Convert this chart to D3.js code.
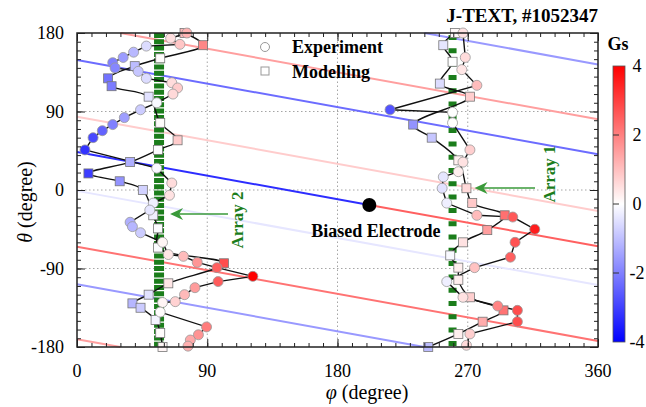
<!DOCTYPE html>
<html>
<head>
<meta charset="utf-8">
<script src="https://cdn.jsdelivr.net/npm/d3@7"></script>
<style>
  body { margin: 0; background: #fff; }
  text { font-family: "Liberation Serif", "Times New Roman", serif; }
</style>
</head>
<body>
<div id="chart"></div>
<script>
// ---- data ----
var phiTicks = [0, 90, 180, 270, 360];
var thetaTicks = [-180, -90, 0, 90, 180];
var gsTicks = [-4, -2, 0, 2, 4];

// helical field lines: theta at phi = 0, phi range, field value (Gs)
var lineTheta0 = [189, 149, 84, 43.5, 43.5, -1, -65, -108];
var lineFrom   = [0, 0, 0, 0, 202, 0, 0, 0];
var lineTo     = [360, 360, 360, 202, 360, 360, 360, 360];
var lineGs     = [1.5, -2.3, 0.8, -3.3, 2.5, -0.4, 2.2, -1.6];
var pitch = 0.3;   // d(theta)/d(phi)

var electrodePhi = 202, electrodeTheta = -17.2;

var array1Phi = 259.5, array2Phi = 56.7;
var phiPerGs = 16;

// Array 2 (phi ~ 57)
var thetaExp2 = [180, 174, 167, 165, 158, 152, 146, 140, 136, 128, 123, 117, 110, 100, 92, 83, 75, 68, 60, 46,
                 25, 8, -6, -15, -23, -37, -42, -49, -60, -74, -76, -83, -89, -99, -105, -112, -120, -128, -129, -140,
                 -157, -166, -172, -179];
var bExp2 = [1.2, 0.5, 0.9, -0.55, -1.1, -1.55, -2.0, -1.9, -0.9, -0.55, 0.55, 0.8, 0.6, -0.1, -0.8, -1.5, -2.0, -2.45, -2.85, -3.2,
             -0.1, 0.55, 0.45, -0.25, -0.4, -1.25, -1.15, -0.8, 0.15, 0.4, 1.05, 1.65, 2.5, 4.05, 2.55, 1.55, 1.1, 0.7, 0.15, 0.05,
             2.05, 1.7, 1.35, 1.25];
var thetaMod2 = [180, 166, 151, 142, 128, 119, 107, 77, 57, 46, 32, 19, 10, 0, -29, -44, -66, -84, -107, -120, -130, -135, -149, -164, -180];
var bMod2 = [1.1, 1.9, 0.05, -1.05, -2.2, -2.05, -0.45, 0.05, 0.8, -0.05, -1.25, -3.05, -1.7, -0.7, -0.25, -0.05, -0.05, 2.8, 0.4, -0.45, -1.15, -0.8, -0.15, 0.05, 0.15];

// Array 1 (phi ~ 260)
var thetaExp1 = [180, 152, 138, 120, 92, 89, 77, 46, 32, 21, 15, 2, -15, -29, -31, -45, -60, -77, -89, -105,
                 -123, -133, -138, -151, -165, -178];
var bExp1 = [0.45, 0.55, 0.4, 1.05, -2.7, 0, 0, 0.75, 0.45, 0.25, -0.4, -0.45, -0.25, 1.05, 2.6, 3.55, 2.7, 2.5, 0.95, -0.25,
             0.45, 1.95, 2.8, 2.8, 0.75, 0.6];
var thetaMod1 = [180, 166, 147, 122, 107, 75, 60, 34, 2, -15, -29, -46, -60, -75, -89, -103, -123, -138, -151, -165, -180];
var bMod1 = [0.1, -0.4, 0, -0.55, 0.75, -1.7, -0.9, 0.25, 0.6, 0.85, 2.25, 1.5, 0.45, -0.1, 0.25, 0.25, 0.75, 2.2, 1.3, 0.25, -1.05];

// ---- chart ----
var w = 646, h = 407;
var x = d3.scaleLinear().domain([0, 360]).range([77, 598]);
var y = d3.scaleLinear().domain([-180, 180]).range([347, 33]);
var color = d3.scaleLinear().domain([-4, 0, 4]).range(["#0000ff", "#ffffff", "#ff0000"]).clamp(true);
var green = "#1b7d1b";

var svg = d3.select("#chart").append("svg")
    .attr("width", w)
    .attr("height", h);

// dotted grid
svg.selectAll("line.gx").data([90, 180, 270]).enter().append("line")
    .attr("x1", d => x(d)).attr("x2", d => x(d))
    .attr("y1", y(-180)).attr("y2", y(180))
    .attr("stroke", "#a5a5a5").attr("stroke-dasharray", "1.5,2.5");
svg.selectAll("line.gy").data([-90, 0, 90]).enter().append("line")
    .attr("y1", d => y(d)).attr("y2", d => y(d))
    .attr("x1", x(0)).attr("x2", x(360))
    .attr("stroke", "#a5a5a5").attr("stroke-dasharray", "1.5,2.5");

// field lines, wrapped in theta
function wrap(t) { while (t >= 180) t -= 360; while (t < -180) t += 360; return t; }
function segments(t0, p0, p1) {
    var segs = [], p = p0, t = wrap(t0 - pitch * p0);
    while (p < p1 - 1e-9) {
        var pHit = p + (t + 180) / pitch;
        if (pHit >= p1) { segs.push([[p, t], [p1, t - pitch * (p1 - p)]]); break; }
        segs.push([[p, t], [pHit, -180]]);
        p = pHit; t = 180;
    }
    return segs;
}
var fieldSegs = [];
lineTheta0.forEach(function(t0, i) {
    segments(t0, lineFrom[i], lineTo[i]).forEach(function(s) {
        fieldSegs.push({ pts: s, gs: lineGs[i] });
    });
});
svg.selectAll("line.field").data(fieldSegs).enter().append("line")
    .attr("x1", d => x(d.pts[0][0])).attr("y1", d => y(d.pts[0][1]))
    .attr("x2", d => x(d.pts[1][0])).attr("y2", d => y(d.pts[1][1]))
    .attr("stroke", d => color(d.gs))
    .attr("stroke-width", 2);

// probe arrays
svg.append("line")
    .attr("x1", x(array2Phi)).attr("x2", x(array2Phi))
    .attr("y1", y(180)).attr("y2", y(-180))
    .attr("stroke", green).attr("stroke-width", 10)
    .attr("stroke-dasharray", "5,1.3");
svg.append("line")
    .attr("x1", x(array1Phi)).attr("x2", x(array1Phi))
    .attr("y1", y(180) + 2).attr("y2", y(-180))
    .attr("stroke", green).attr("stroke-width", 8)
    .attr("stroke-dasharray", "5,8.3");

// profiles
function profile(phi0, thetas, bs, kind) {
    var pts = thetas.map((t, i) => ({ t: t, b: bs[i] }));
    var line = d3.line()
        .x(d => x(phi0 + d.b * phiPerGs))
        .y(d => y(d.t))
        .curve(kind == "mod" ? d3.curveCatmullRom.alpha(0.5) : d3.curveLinear);
    svg.append("path").datum(pts)
        .attr("d", line)
        .attr("fill", "none").attr("stroke", "#111").attr("stroke-width", 1.4);
    return pts;
}
var e2 = profile(array2Phi, thetaExp2, bExp2, "exp");
var m2 = profile(array2Phi, thetaMod2, bMod2, "mod");
var e1 = profile(array1Phi, thetaExp1, bExp1, "exp");
var m1 = profile(array1Phi, thetaMod1, bMod1, "mod");

function squares(phi0, pts) {
    svg.append("g").selectAll("rect").data(pts).enter().append("rect")
        .attr("x", d => x(phi0 + d.b * phiPerGs) - 4.5)
        .attr("y", d => y(d.t) - 4.5)
        .attr("width", 9).attr("height", 9)
        .attr("fill", d => color(d.b))
        .attr("stroke", "#777").attr("stroke-width", 0.8);
}
function circles(phi0, pts) {
    svg.append("g").selectAll("circle").data(pts).enter().append("circle")
        .attr("cx", d => x(phi0 + d.b * phiPerGs))
        .attr("cy", d => y(d.t))
        .attr("r", 5)
        .attr("fill", d => color(d.b))
        .attr("stroke", "#999").attr("stroke-width", 0.8);
}
squares(array2Phi, m2);
squares(array1Phi, m1);
circles(array2Phi, e2);
circles(array1Phi, e1);

// biased electrode
svg.append("circle")
    .attr("cx", x(electrodePhi)).attr("cy", y(electrodeTheta))
    .attr("r", 7).attr("fill", "#000");
svg.append("text")
    .attr("x", x(electrodePhi) - 58).attr("y", y(electrodeTheta) + 32)
    .attr("font-size", 18).attr("font-weight", "bold")
    .text("Biased Electrode");

// array labels and arrows
function arrow(x1, x2, yy) {
    svg.append("line").attr("x1", x1).attr("x2", x2 + 6).attr("y1", yy).attr("y2", yy)
        .attr("stroke", "#3a9a3a").attr("stroke-width", 1.6);
    svg.append("path")
        .attr("d", "M" + x2 + "," + yy + " l13,-6 l-4,6 l4,6 z")
        .attr("fill", "#3a9a3a");
}
arrow(228, x(array2Phi) + 11, 214);
arrow(535, x(array1Phi) + 22, 188);
svg.append("text")
    .attr("transform", "translate(243,220) rotate(-90)")
    .attr("text-anchor", "middle")
    .attr("font-size", 17).attr("font-weight", "bold").attr("fill", green)
    .text("Array 2");
svg.append("text")
    .attr("transform", "translate(555,174) rotate(-90)")
    .attr("text-anchor", "middle")
    .attr("font-size", 17).attr("font-weight", "bold").attr("fill", green)
    .text("Array 1");

// legend
svg.append("circle").attr("cx", 265).attr("cy", 47).attr("r", 4.5)
    .attr("fill", "#fff").attr("stroke", "#999");
svg.append("rect").attr("x", 261).attr("y", 67).attr("width", 8).attr("height", 8)
    .attr("fill", "#fff").attr("stroke", "#999");
svg.append("text").attr("x", 292).attr("y", 53)
    .attr("font-size", 18).attr("font-weight", "bold").text("Experiment");
svg.append("text").attr("x", 292).attr("y", 78)
    .attr("font-size", 18).attr("font-weight", "bold").text("Modelling");

// frame and ticks
function inward(g) { g.select(".domain").remove(); g.selectAll("line").attr("stroke", "#222"); }
var minorPhi = d3.range(0, 361, 10), minorTheta = d3.range(-180, 181, 10);
svg.append("g").attr("transform", "translate(0," + y(-180) + ")")
    .call(d3.axisBottom(x).tickValues(minorPhi).tickSize(-4).tickFormat("")).call(inward);
svg.append("g").attr("transform", "translate(0," + y(180) + ")")
    .call(d3.axisTop(x).tickValues(minorPhi).tickSize(-4).tickFormat("")).call(inward);
svg.append("g").attr("transform", "translate(" + x(0) + ",0)")
    .call(d3.axisLeft(y).tickValues(minorTheta).tickSize(-4).tickFormat("")).call(inward);
svg.append("g").attr("transform", "translate(" + x(360) + ",0)")
    .call(d3.axisRight(y).tickValues(minorTheta).tickSize(-4).tickFormat("")).call(inward);
svg.append("g").attr("transform", "translate(0," + y(-180) + ")")
    .call(d3.axisBottom(x).tickValues(phiTicks).tickSize(-8).tickFormat("")).call(inward);
svg.append("g").attr("transform", "translate(0," + y(180) + ")")
    .call(d3.axisTop(x).tickValues(phiTicks).tickSize(-8).tickFormat("")).call(inward);
svg.append("g").attr("transform", "translate(" + x(0) + ",0)")
    .call(d3.axisLeft(y).tickValues(thetaTicks).tickSize(-8).tickFormat("")).call(inward);
svg.append("g").attr("transform", "translate(" + x(360) + ",0)")
    .call(d3.axisRight(y).tickValues(thetaTicks).tickSize(-8).tickFormat("")).call(inward);

svg.append("rect")
    .attr("x", x(0)).attr("y", y(180))
    .attr("width", x(360) - x(0)).attr("height", y(-180) - y(180))
    .attr("fill", "none").attr("stroke", "#222").attr("stroke-width", 1.5);

// tick labels
svg.selectAll("text.xt").data(phiTicks).enter().append("text")
    .attr("x", d => x(d)).attr("y", 377)
    .attr("text-anchor", "middle").attr("font-size", 18)
    .text(d => d);
svg.selectAll("text.yt").data(thetaTicks).enter().append("text")
    .attr("x", 64).attr("y", d => y(d) + 6)
    .attr("text-anchor", "end").attr("font-size", 18)
    .text(d => d);

// axis titles
var xt = svg.append("text").attr("x", 367).attr("y", 399)
    .attr("text-anchor", "middle").attr("font-size", 20);
xt.append("tspan").attr("font-style", "italic").text("φ");
xt.append("tspan").text(" (degree)");
var yt = svg.append("text").attr("transform", "translate(32,202) rotate(-90)")
    .attr("text-anchor", "middle").attr("font-size", 20);
yt.append("tspan").attr("font-style", "italic").text("θ");
yt.append("tspan").text(" (degree)");

// title
svg.append("text").attr("x", 598).attr("y", 22)
    .attr("text-anchor", "end").attr("font-size", 19).attr("font-weight", "bold")
    .text("J-TEXT, #1052347");

// colour bar
var cy = d3.scaleLinear().domain([-4, 4]).range([342, 66]);
var defs = svg.append("defs");
var grad = defs.append("linearGradient").attr("id", "cb")
    .attr("x1", 0).attr("x2", 0).attr("y1", 1).attr("y2", 0);
[-4, -2, 0, 2, 4].forEach(function(v) {
    grad.append("stop").attr("offset", (v + 4) / 8).attr("stop-color", color(v));
});
svg.append("rect").attr("x", 613).attr("y", cy(4))
    .attr("width", 12).attr("height", cy(-4) - cy(4))
    .attr("fill", "url(#cb)").attr("stroke", "#555").attr("stroke-width", 0.8);
svg.selectAll("line.cbt").data([-2, 0, 2]).enter().append("line")
    .attr("x1", 613).attr("x2", 619)
    .attr("y1", d => cy(d)).attr("y2", d => cy(d))
    .attr("stroke", "#333").attr("stroke-width", 1);
svg.selectAll("text.cbl").data(gsTicks).enter().append("text")
    .attr("x", 637).attr("y", d => cy(d) + 6)
    .attr("text-anchor", "middle").attr("font-size", 18)
    .text(d => d);
svg.append("text").attr("x", 618).attr("y", 50)
    .attr("text-anchor", "middle").attr("font-size", 18).attr("font-weight", "bold")
    .text("Gs");
</script>
</body>
</html>
